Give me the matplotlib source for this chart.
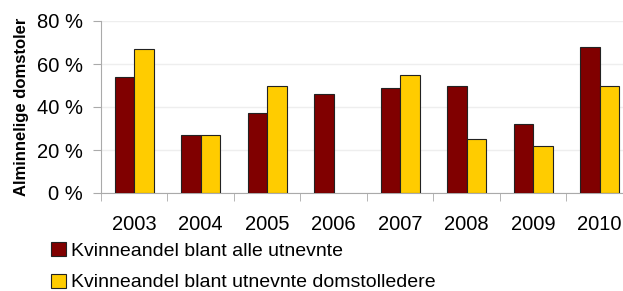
import matplotlib.pyplot as plt
import numpy as np

plt.rcParams["font.family"] = ["Liberation Sans", "DejaVu Sans"]

years = ["2003", "2004", "2005", "2006", "2007", "2008", "2009", "2010"]
alle = [54, 27, 37, 46, 49, 50, 32, 68]
ledere = [67, 27, 50, np.nan, 55, 25, 22, 50]
y_ticks = [0, 20, 40, 60, 80]

fig = plt.figure(figsize=(6.23, 2.91), dpi=100)
ax = fig.add_axes([101 / 623, 98 / 291, 532 / 623, 172 / 291])

x = np.arange(len(years))
w = 0.29
b1 = ax.bar(x - w / 2, alle, w, color="#800000", edgecolor="#222222", linewidth=0.8,
            label="Kvinneandel blant alle utnevnte", zorder=3)
b2 = ax.bar(x + w / 2, ledere, w, color="#FFCC00", edgecolor="#222222", linewidth=0.8,
            label="Kvinneandel blant utnevnte domstolledere", zorder=3)

ax.set_xlim(-0.5, len(years) - 0.5)
ax.set_ylim(0, 80)
ax.set_yticks(y_ticks)
ax.set_yticklabels([f"{v} %" for v in y_ticks], fontsize=14.5)
ax.set_xticks(x)
ax.set_xticklabels(years, fontsize=14.5)
ax.tick_params(axis="x", length=0, pad=16)
ax.set_xticks(np.arange(len(years) + 1) - 0.5, minor=True)
ax.tick_params(axis="x", which="minor", length=6, color="#aaaaaa", direction="out")
ax.tick_params(axis="y", length=6, color="#aaaaaa", pad=7)
ax.grid(axis="y", color="#eeeeee", linewidth=1, zorder=0)
for s in ["top", "right"]:
    ax.spines[s].set_visible(False)
for s in ["left", "bottom"]:
    ax.spines[s].set_color("#aaaaaa")

ax.set_ylabel("Alminnelige domstoler", fontsize=12, fontweight="bold", labelpad=6)

fig.legend(handles=[b1, b2], loc="upper left", bbox_to_anchor=(51 / 623, 1 - 242 / 291),
           frameon=False, fontsize=14, handlelength=0.75, handleheight=0.75,
           handletextpad=0.3, labelspacing=0.7, borderpad=0, borderaxespad=0)

plt.savefig("out.png", dpi=100)
